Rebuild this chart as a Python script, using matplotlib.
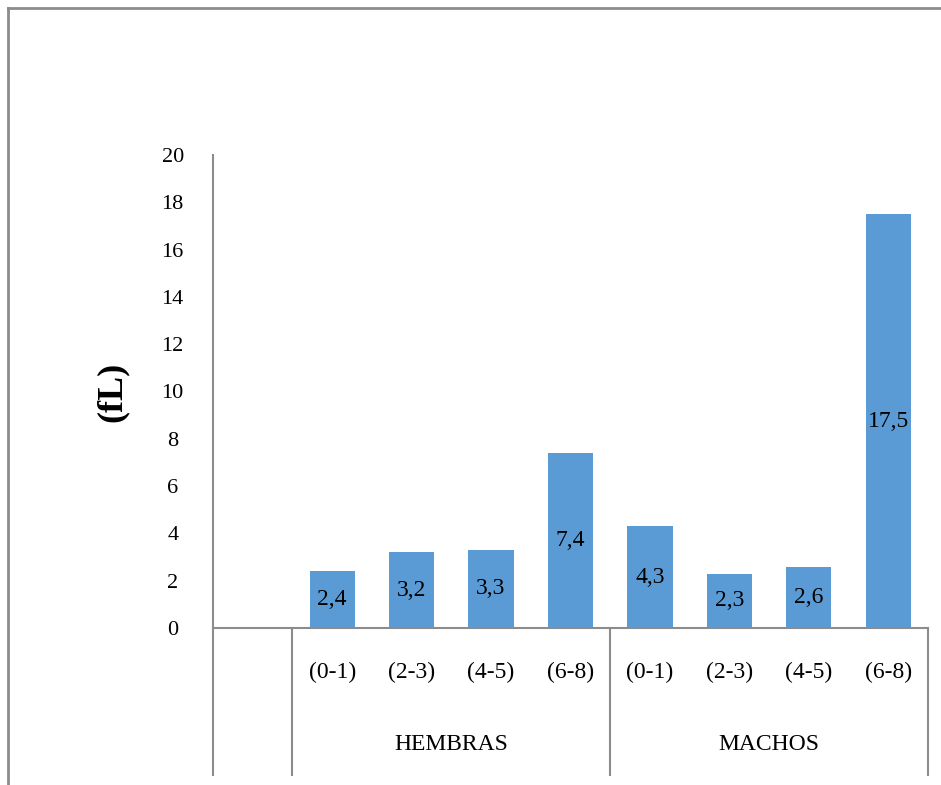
import matplotlib.pyplot as plt
from matplotlib.lines import Line2D

# Datos
grupos = ['HEMBRAS', 'MACHOS']
edades = ['(0-1)', '(2-3)', '(4-5)', '(6-8)']
hembras = [2.4, 3.2, 3.3, 7.4]
machos = [4.3, 2.3, 2.6, 17.5]
y_ticks = [0, 2, 4, 6, 8, 10, 12, 14, 16, 18, 20]

valores = hembras + machos
etiquetas = edades + edades
# posicion 0 queda vacia, como en el original
pos = list(range(1, len(valores) + 1))

color_barra = '#5B9BD5'
gris = '#8C8C8C'
fuente = 'Liberation Serif'

fig = plt.figure(figsize=(9.41, 7.85), dpi=100)
ax = fig.add_axes([213 / 941, 1 - 628 / 785, (928 - 213) / 941, (628 - 155) / 785])

ax.bar(pos, valores, width=0.57, color=color_barra, zorder=2)

for x, v in zip(pos, valores):
    ax.text(x, v / 2, f'{v:.1f}'.replace('.', ','), ha='center', va='center',
            fontsize=17, family=fuente, color='black', zorder=3)

ax.set_xlim(-0.5, 8.5)
ax.set_ylim(0, 20)
ax.set_yticks(y_ticks)
ax.set_yticklabels([str(t) for t in y_ticks], family=fuente, fontsize=16, ha='center')
ax.tick_params(axis='y', length=0, pad=29)
ax.set_xticks([])

for s in ['top', 'right']:
    ax.spines[s].set_visible(False)
for s in ['left', 'bottom']:
    ax.spines[s].set_color(gris)
    ax.spines[s].set_linewidth(1.5)

ax.set_ylabel('(fL)', family=fuente, fontsize=26, fontweight='bold', labelpad=24)

# eje de categorias en dos niveles
trans = ax.get_xaxis_transform()
y_bajo = -(775 - 628) / 473
for xs in [-0.5, 0.5, 4.5, 8.5]:
    ax.plot([xs, xs], [0, y_bajo], color=gris, lw=1.5, transform=trans, clip_on=False)

for x, lab in zip(pos, etiquetas):
    ax.text(x, -(672 - 628) / 473, lab, ha='center', va='center',
            fontsize=17, family=fuente, transform=trans)

for i, g in enumerate(grupos):
    ax.text(2.5 + 4 * i, -(745 - 628) / 473, g, ha='center', va='center',
            fontsize=17, family=fuente, transform=trans)

# borde del grafico
fig.add_artist(Line2D([8 / 941, 8 / 941], [0, 1 - 8 / 785], color=gris, lw=2))
fig.add_artist(Line2D([8 / 941, 1], [1 - 8 / 785, 1 - 8 / 785], color=gris, lw=2))

fig.savefig('out.png', dpi=100)
